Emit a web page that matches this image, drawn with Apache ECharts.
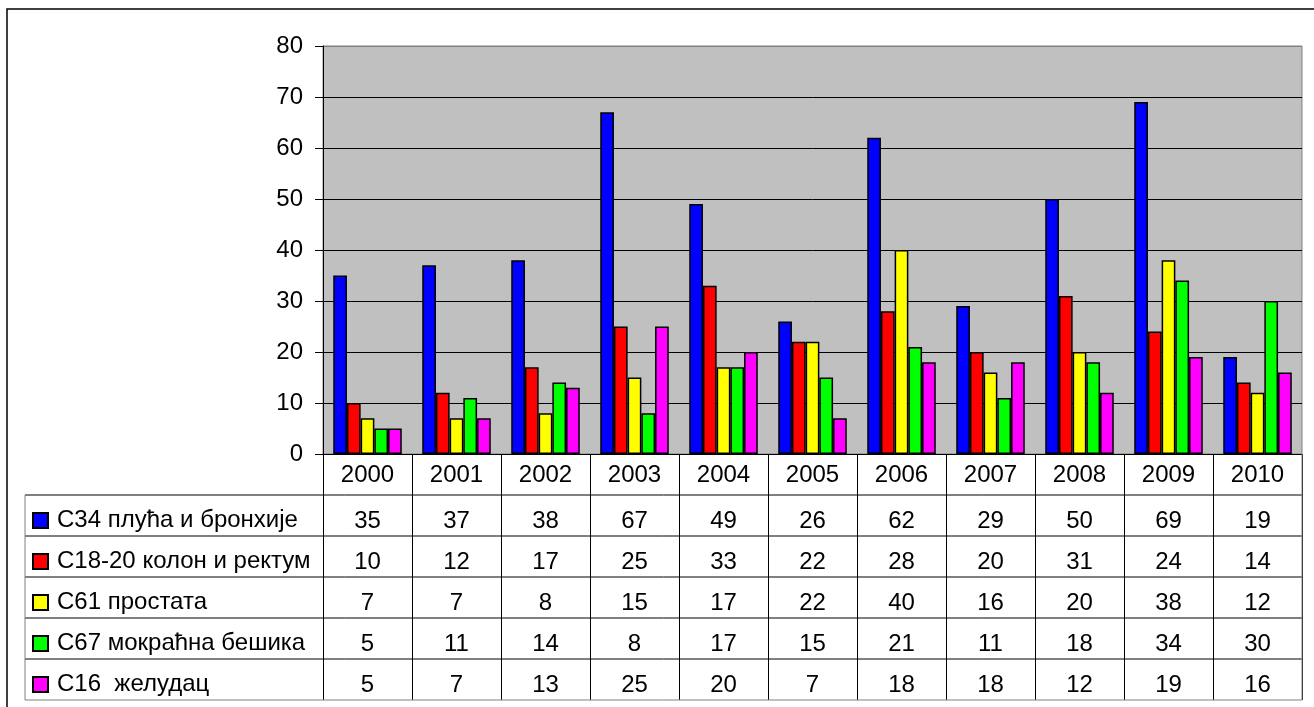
<!DOCTYPE html>
<html>
<head>
<meta charset="utf-8">
<title>Инциденца малигних тумора 2000–2010</title>
<script src="https://cdn.jsdelivr.net/npm/echarts@6/dist/echarts.min.js"></script>
<style>
  html, body { margin: 0; padding: 0; background: #fff; }
  #chart { width: 1314px; height: 707px; }
</style>
</head>
<body>
<div id="chart"></div>
<script>
// Categories (years) and series values per localisation
const years = ['2000', '2001', '2002', '2003', '2004', '2005', '2006', '2007', '2008', '2009', '2010'];
const seriesNames = [
  'C34 плућа и бронхије',
  'C18-20 колон и ректум',
  'C61 простата',
  'C67 мокраћна бешика',
  'C16  желудац'
];
const c34Values = [35, 37, 38, 67, 49, 26, 62, 29, 50, 69, 19];
const c18Values = [10, 12, 17, 25, 33, 22, 28, 20, 31, 24, 14];
const c61Values = [7, 7, 8, 15, 17, 22, 40, 16, 20, 38, 12];
const c67Values = [5, 11, 14, 8, 17, 15, 21, 11, 18, 34, 30];
const c16Values = [5, 7, 13, 25, 20, 7, 18, 18, 12, 19, 16];
const yMin = 0, yMax = 80, yStep = 10;

const seriesValues = [c34Values, c18Values, c61Values, c67Values, c16Values];
const seriesColors = ['#0000FF', '#FF0000', '#FFFF00', '#00FF00', '#FF00FF'];

// Layout
const W = 1314, H = 707;
const PLOT_LEFT = 323, PLOT_TOP = 46, PLOT_RIGHT = 1302, PLOT_BOTTOM = 454;
const HEADER_H = 41, ROW_H = 41, TABLE_LEFT = 25;
const TABLE_TOP = PLOT_BOTTOM + HEADER_H;            // first data row line
const TABLE_BOTTOM = TABLE_TOP + ROW_H * seriesValues.length;
const FONT = '"Liberation Sans", Arial, sans-serif';
const FS = 24;

const chart = echarts.init(document.getElementById('chart'), null, { renderer: 'canvas' });

// Split line colours: black gridlines, grey frame at the top
const nLines = Math.round((yMax - yMin) / yStep) + 1;
const splitColors = [];
for (let i = 0; i < nLines; i++) splitColors.push(i === nLines - 1 ? '#808080' : '#000000');

// Header axis (years) – its ticks form the table's column separators
const xAxes = [{
  type: 'category',
  data: years,
  position: 'bottom',
  boundaryGap: true,
  axisLine: { show: true, lineStyle: { color: '#000', width: 1 } },
  axisTick: { show: true, interval: 0, length: TABLE_BOTTOM - PLOT_BOTTOM, lineStyle: { color: '#000', width: 1 } },
  axisLabel: { interval: 0, margin: 9, color: '#000', fontSize: FS, fontFamily: FONT }
}];

// One row of the data table per series, drawn as an offset category axis
seriesValues.forEach((vals, s) => {
  xAxes.push({
    type: 'category',
    data: years,
    position: 'bottom',
    offset: HEADER_H + ROW_H * s,
    axisLine: { show: false },
    axisTick: { show: false },
    axisLabel: {
      interval: 0, margin: 14, color: '#000', fontSize: FS, fontFamily: FONT,
      formatter: (v, i) => String(vals[i])
    }
  });
});

// Table rules, legend column frame and outer border
const graphics = [
  {
    type: 'rect', silent: true, z: 0,
    shape: { x: 7, y: 9, width: W + 40, height: H + 40 },
    style: { fill: 'none', stroke: '#000', lineWidth: 1.5 }
  }
];
for (let k = 0; k <= seriesValues.length; k++) {
  const y = TABLE_TOP + ROW_H * k;
  graphics.push({
    type: 'line', silent: true, z: 50,
    shape: { x1: TABLE_LEFT, y1: y, x2: PLOT_RIGHT, y2: y },
    style: { stroke: k === seriesValues.length ? '#808080' : '#000', lineWidth: 1 }
  });
}
graphics.push({
  type: 'line', silent: true, z: 50,
  shape: { x1: TABLE_LEFT, y1: TABLE_TOP, x2: TABLE_LEFT, y2: TABLE_BOTTOM },
  style: { stroke: '#808080', lineWidth: 1 }
});
graphics.push({
  type: 'line', silent: true, z: 50,
  shape: { x1: PLOT_RIGHT, y1: PLOT_BOTTOM, x2: PLOT_RIGHT, y2: TABLE_BOTTOM },
  style: { stroke: '#808080', lineWidth: 1 }
});

const option = {
  animation: false,
  backgroundColor: '#fff',
  textStyle: { fontFamily: FONT },
  grid: {
    left: PLOT_LEFT, top: PLOT_TOP, right: W - PLOT_RIGHT, bottom: H - PLOT_BOTTOM,
    show: true, backgroundColor: '#C0C0C0', borderColor: '#808080', borderWidth: 1,
    containLabel: false
  },
  legend: {
    orient: 'vertical',
    left: 32,
    top: TABLE_TOP + 5,
    padding: 0,
    itemGap: 0,
    itemWidth: 15,
    itemHeight: 15,
    icon: 'rect',
    selectedMode: false,
    data: seriesNames,
    textStyle: { color: '#000', fontSize: FS, fontFamily: FONT, lineHeight: ROW_H, padding: [0, 0, 0, 4] }
  },
  xAxis: xAxes,
  yAxis: {
    type: 'value',
    min: yMin, max: yMax, interval: yStep,
    axisLine: { show: true, lineStyle: { color: '#000', width: 1 } },
    axisTick: { show: true, length: 8, lineStyle: { color: '#000', width: 1 } },
    axisLabel: { margin: 20, color: '#000', fontSize: FS, fontFamily: FONT },
    splitLine: { show: true, lineStyle: { color: splitColors, width: 1 } }
  },
  series: seriesValues.map((vals, s) => ({
    name: seriesNames[s],
    type: 'bar',
    xAxisIndex: 0,
    yAxisIndex: 0,
    data: vals,
    barGap: '0%',
    barCategoryGap: '23%',
    itemStyle: { color: seriesColors[s], borderColor: '#000', borderWidth: 1.5 }
  })),
  graphic: graphics
};

chart.setOption(option);
</script>
</body>
</html>
